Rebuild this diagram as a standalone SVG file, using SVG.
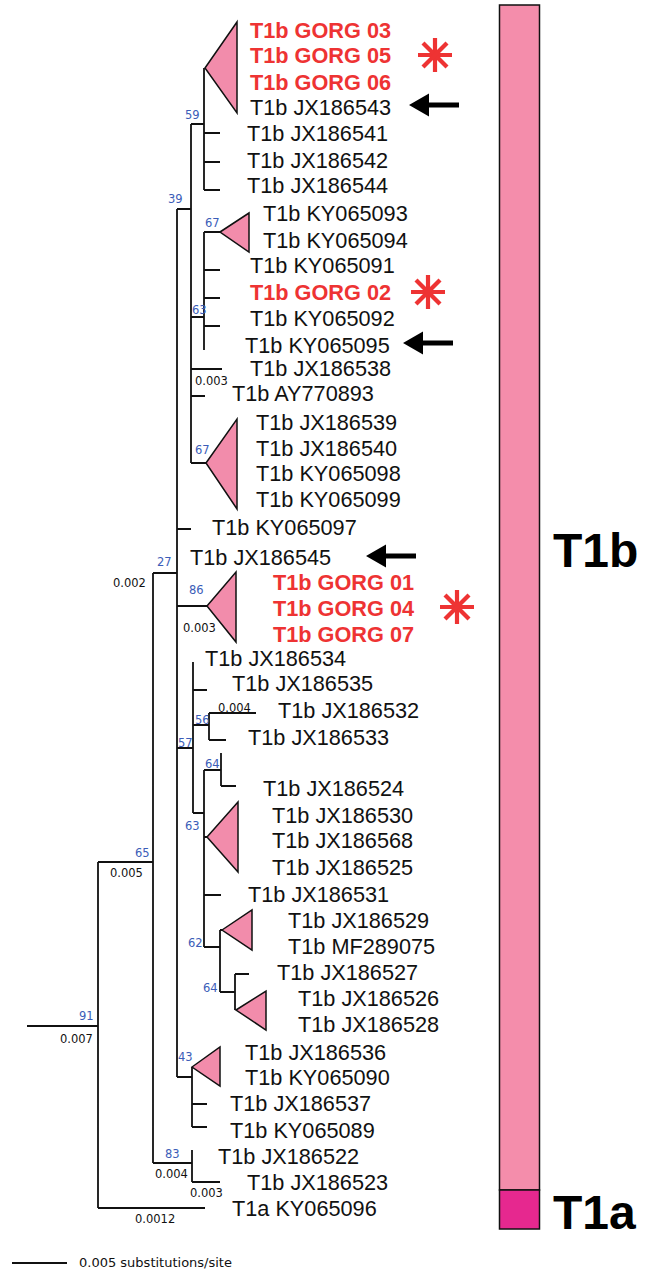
<svg xmlns="http://www.w3.org/2000/svg" width="645" height="1272" viewBox="0 0 645 1272">
<style>
.t{font-family:"Liberation Sans",Arial,sans-serif;font-size:21.7px;fill:#111}
.r{font-family:"Liberation Sans",Arial,sans-serif;font-size:21.7px;font-weight:bold;fill:#EE3333}
.s{font-family:"DejaVu Sans",Verdana,sans-serif;font-size:11.5px;fill:#3B5DB8}
.b{font-family:"DejaVu Sans",Verdana,sans-serif;font-size:11.5px;fill:#111}
.big{font-family:"Liberation Sans",Arial,sans-serif;font-size:48px;font-weight:bold;fill:#000}
.br{fill:none;stroke:#111;stroke-width:1.8}
.tri{fill:#F28CAB;stroke:#111;stroke-width:1.5;stroke-linejoin:miter}
.ast{stroke:#EE3333;stroke-width:4.2;stroke-linecap:butt}
</style>
<defs>
<path id="arr" d="M0,0 L20,-11.5 L20,-2.6 L50,-2.6 L50,2.6 L20,2.6 L20,11.5 Z" fill="#000"/>
<g id="star">
<line class="ast" x1="0" y1="-17" x2="0" y2="17"/>
<line class="ast" x1="-17" y1="0" x2="17" y2="0"/>
<line class="ast" x1="-12" y1="-12" x2="12" y2="12"/>
<line class="ast" x1="12" y1="-12" x2="-12" y2="12"/>
</g>
</defs>
<rect width="645" height="1272" fill="#fff"/>

<g id="connectors">
<path class="br" d="M27,1026 H98 M98,862 V1208 M98,862 H153 M98,1208 H205
M153,573 V1163 M153,573 H177 M153,1163 H192 M192,1150 V1182 M192,1182 H220
M177,209 V1077 M177,209 H191 M177,529 H191 M177,606 H207 M177,748 H193 M177,1077 H192
M191,124 V463 M191,124 H204 M191,317 H204 M191,369 H222 M191,396 H205 M191,463 H206
M204,68 V190 M204,133 H220 M204,162 H220 M204,190 H220
M204,232 V350 M204,232 H220 M204,270 H220 M204,298 H220 M204,326 H220
M193,662 V813 M193,690 H207 M193,725 H209 M209,713 V740 M209,713 H256 M209,740 H226
M193,813 H204 M204,770 V947 M204,770 H221 M221,753 V786 M221,786 H236
M204,837 H207 M204,895 H221 M204,947 H220
M220,930 V992 M220,930 H222 M220,992 H235 M235,974 V1010 M235,974 H249
M192,1067 V1127 M192,1104 H207 M192,1127 H207"/>
</g>

<g id="clades">
<polygon class="tri" points="205,68 237,22 237,113"/>
<polygon class="tri" points="220,232 249,213 249,252"/>
<polygon class="tri" points="206,463 237,419 237,509"/>
<polygon class="tri" points="207,606 236,572 236,642"/>
<polygon class="tri" points="207,837 238,802 238,872"/>
<polygon class="tri" points="222,930 252,910 252,950"/>
<polygon class="tri" points="236,1010 266,991 266,1030"/>
<polygon class="tri" points="192,1067 220,1047 220,1086"/>
</g>

<g id="leaves">
<text class="r" x="250" y="38">T1b GORG 03</text>
<text class="r" x="250" y="63">T1b GORG 05</text>
<text class="r" x="250" y="90">T1b GORG 06</text>
<text class="t" x="250" y="115">T1b JX186543</text>
<text class="t" x="247" y="141">T1b JX186541</text>
<text class="t" x="247" y="168">T1b JX186542</text>
<text class="t" x="247" y="193">T1b JX186544</text>
<text class="t" x="263" y="221">T1b KY065093</text>
<text class="t" x="263" y="248">T1b KY065094</text>
<text class="t" x="250" y="273">T1b KY065091</text>
<text class="r" x="250" y="300">T1b GORG 02</text>
<text class="t" x="250" y="326">T1b KY065092</text>
<text class="t" x="245" y="353">T1b KY065095</text>
<text class="t" x="250" y="376">T1b JX186538</text>
<text class="t" x="232" y="401">T1b AY770893</text>
<text class="t" x="256" y="430">T1b JX186539</text>
<text class="t" x="256" y="456">T1b JX186540</text>
<text class="t" x="256" y="481">T1b KY065098</text>
<text class="t" x="256" y="507">T1b KY065099</text>
<text class="t" x="212" y="535">T1b KY065097</text>
<text class="t" x="190" y="565">T1b JX186545</text>
<text class="r" x="273" y="590">T1b GORG 01</text>
<text class="r" x="273" y="616">T1b GORG 04</text>
<text class="r" x="273" y="642">T1b GORG 07</text>
<text class="t" x="205" y="666">T1b JX186534</text>
<text class="t" x="232" y="691">T1b JX186535</text>
<text class="t" x="278" y="718">T1b JX186532</text>
<text class="t" x="248" y="745">T1b JX186533</text>
<text class="t" x="263" y="796">T1b JX186524</text>
<text class="t" x="272" y="823">T1b JX186530</text>
<text class="t" x="272" y="848">T1b JX186568</text>
<text class="t" x="272" y="875">T1b JX186525</text>
<text class="t" x="248" y="902">T1b JX186531</text>
<text class="t" x="288" y="928">T1b JX186529</text>
<text class="t" x="288" y="954">T1b MF289075</text>
<text class="t" x="277" y="980">T1b JX186527</text>
<text class="t" x="298" y="1006">T1b JX186526</text>
<text class="t" x="298" y="1032">T1b JX186528</text>
<text class="t" x="245" y="1060">T1b JX186536</text>
<text class="t" x="245" y="1085">T1b KY065090</text>
<text class="t" x="230" y="1111">T1b JX186537</text>
<text class="t" x="230" y="1138">T1b KY065089</text>
<text class="t" x="218" y="1164">T1b JX186522</text>
<text class="t" x="247" y="1190">T1b JX186523</text>
<text class="t" x="232" y="1216">T1a KY065096</text>
</g>

<g id="supports">
<text class="s" x="185" y="119">59</text>
<text class="s" x="168" y="203">39</text>
<text class="s" x="205" y="227">67</text>
<text class="s" x="192" y="314">63</text>
<text class="s" x="195" y="454">67</text>
<text class="s" x="157" y="566">27</text>
<text class="s" x="189" y="594">86</text>
<text class="s" x="178" y="747">57</text>
<text class="s" x="195" y="724">56</text>
<text class="s" x="205" y="768">64</text>
<text class="s" x="185" y="830">63</text>
<text class="s" x="188" y="947">62</text>
<text class="s" x="203" y="992">64</text>
<text class="s" x="178" y="1061">43</text>
<text class="s" x="135" y="857">65</text>
<text class="s" x="79" y="1020">91</text>
<text class="s" x="165" y="1158">83</text>
</g>

<g id="lengths">
<text class="b" x="195" y="385">0.003</text>
<text class="b" x="113" y="587">0.002</text>
<text class="b" x="183" y="632">0.003</text>
<text class="b" x="218" y="712">0.004</text>
<text class="b" x="110" y="877">0.005</text>
<text class="b" x="60" y="1043">0.007</text>
<text class="b" x="155" y="1178">0.004</text>
<text class="b" x="190" y="1197">0.003</text>
<text class="b" x="135" y="1223">0.0012</text>
</g>

<g id="markers">
<use href="#arr" x="409" y="105"/>
<use href="#arr" x="403" y="343"/>
<use href="#arr" x="366" y="556"/>
<use href="#star" x="435" y="55"/>
<use href="#star" x="428" y="292"/>
<use href="#star" x="457" y="607"/>
</g>

<g id="groups">
<rect x="499.5" y="5" width="40" height="1185" fill="#F48DAB" stroke="#111" stroke-width="1.5"/>
<rect x="499.5" y="1190" width="40" height="39" fill="#E6288F" stroke="#111" stroke-width="1.5"/>
<text class="big" x="553" y="567">T1b</text>
<text class="big" x="553" y="1229">T1a</text>
</g>

<g id="scale">
<line x1="12" y1="1263" x2="67" y2="1263" stroke="#111" stroke-width="2"/>
<text class="b" x="79" y="1267" style="font-size:13px">0.005 substitutions/site</text>
</g>
</svg>
